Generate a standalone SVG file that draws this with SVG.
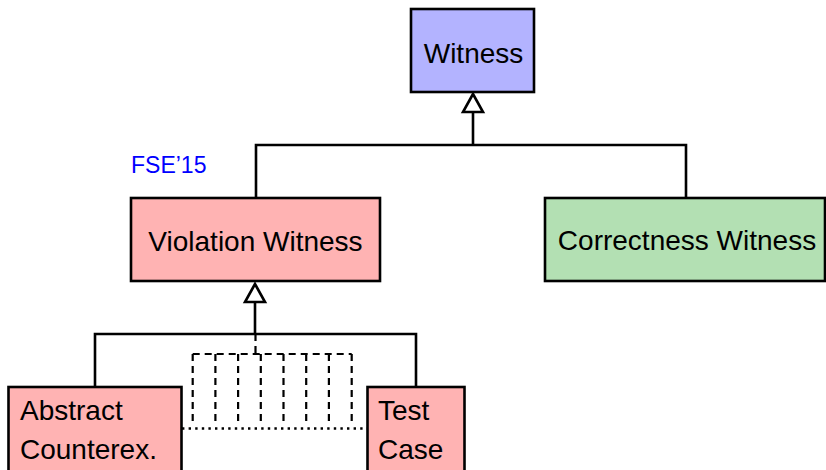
<svg xmlns="http://www.w3.org/2000/svg" width="826" height="470" viewBox="0 0 826 470">
<style>
.box{stroke:#000;stroke-width:2.6}
.t{font-family:"Liberation Sans","DejaVu Sans",sans-serif;font-size:28px;fill:#000}
.ln{stroke:#000;stroke-width:2.6;fill:none}
.dash{stroke:#000;stroke-width:2.2;fill:none;stroke-dasharray:7 5}
.dot{stroke:#000;stroke-width:2.4;fill:none;stroke-dasharray:2.4 4.2}
.tri{fill:#fff;stroke:#000;stroke-width:2.6;stroke-linejoin:miter}
</style>
<rect width="826" height="470" fill="#fff"/>
<g id="connectors">
<path class="ln" d="M473 113V145M256 198V145H686V198"/>
<polygon class="tri" points="473,94 463,112 483,112"/>
<path class="ln" d="M255 303V334M95 387V334H416V387"/>
<polygon class="tri" points="255,284 245,302 265,302"/>
<path class="dash" d="M255.5 334V354M192.7 354H351.7M192.7 354V422M215.4 354V422M238.1 354V422M260.8 354V422M283.5 354V422M306.2 354V422M328.9 354V422M351.7 354V422"/>
<path class="dot" d="M182 428.5H367"/>
</g>
<g id="witness">
<rect class="box" x="411" y="9" width="123" height="83" fill="#b3b3ff"/>
<text class="t" x="473.5" y="63" text-anchor="middle">Witness</text>
</g>
<g id="fse15">
<text x="131" y="173" font-family="Liberation Sans, DejaVu Sans, sans-serif" font-size="23" fill="#0000ff">FSE’15</text>
</g>
<g id="violation">
<rect class="box" x="131" y="198" width="249" height="83" fill="#ffb3b3"/>
<text class="t" x="255.5" y="251" text-anchor="middle" font-size="29">Violation Witness</text>
</g>
<g id="correctness">
<rect class="box" x="545" y="198" width="280" height="83" fill="#b3e0b3"/>
<text class="t" x="687" y="250" text-anchor="middle">Correctness Witness</text>
</g>
<g id="abstract">
<rect class="box" x="8.5" y="387" width="173" height="90" fill="#ffb3b3"/>
<text class="t" x="20" y="420">Abstract</text>
<text class="t" x="20" y="459">Counterex.</text>
</g>
<g id="testcase">
<rect class="box" x="367.5" y="387" width="97" height="90" fill="#ffb3b3"/>
<text class="t" x="378" y="420">Test</text>
<text class="t" x="378" y="459">Case</text>
</g>
</svg>
